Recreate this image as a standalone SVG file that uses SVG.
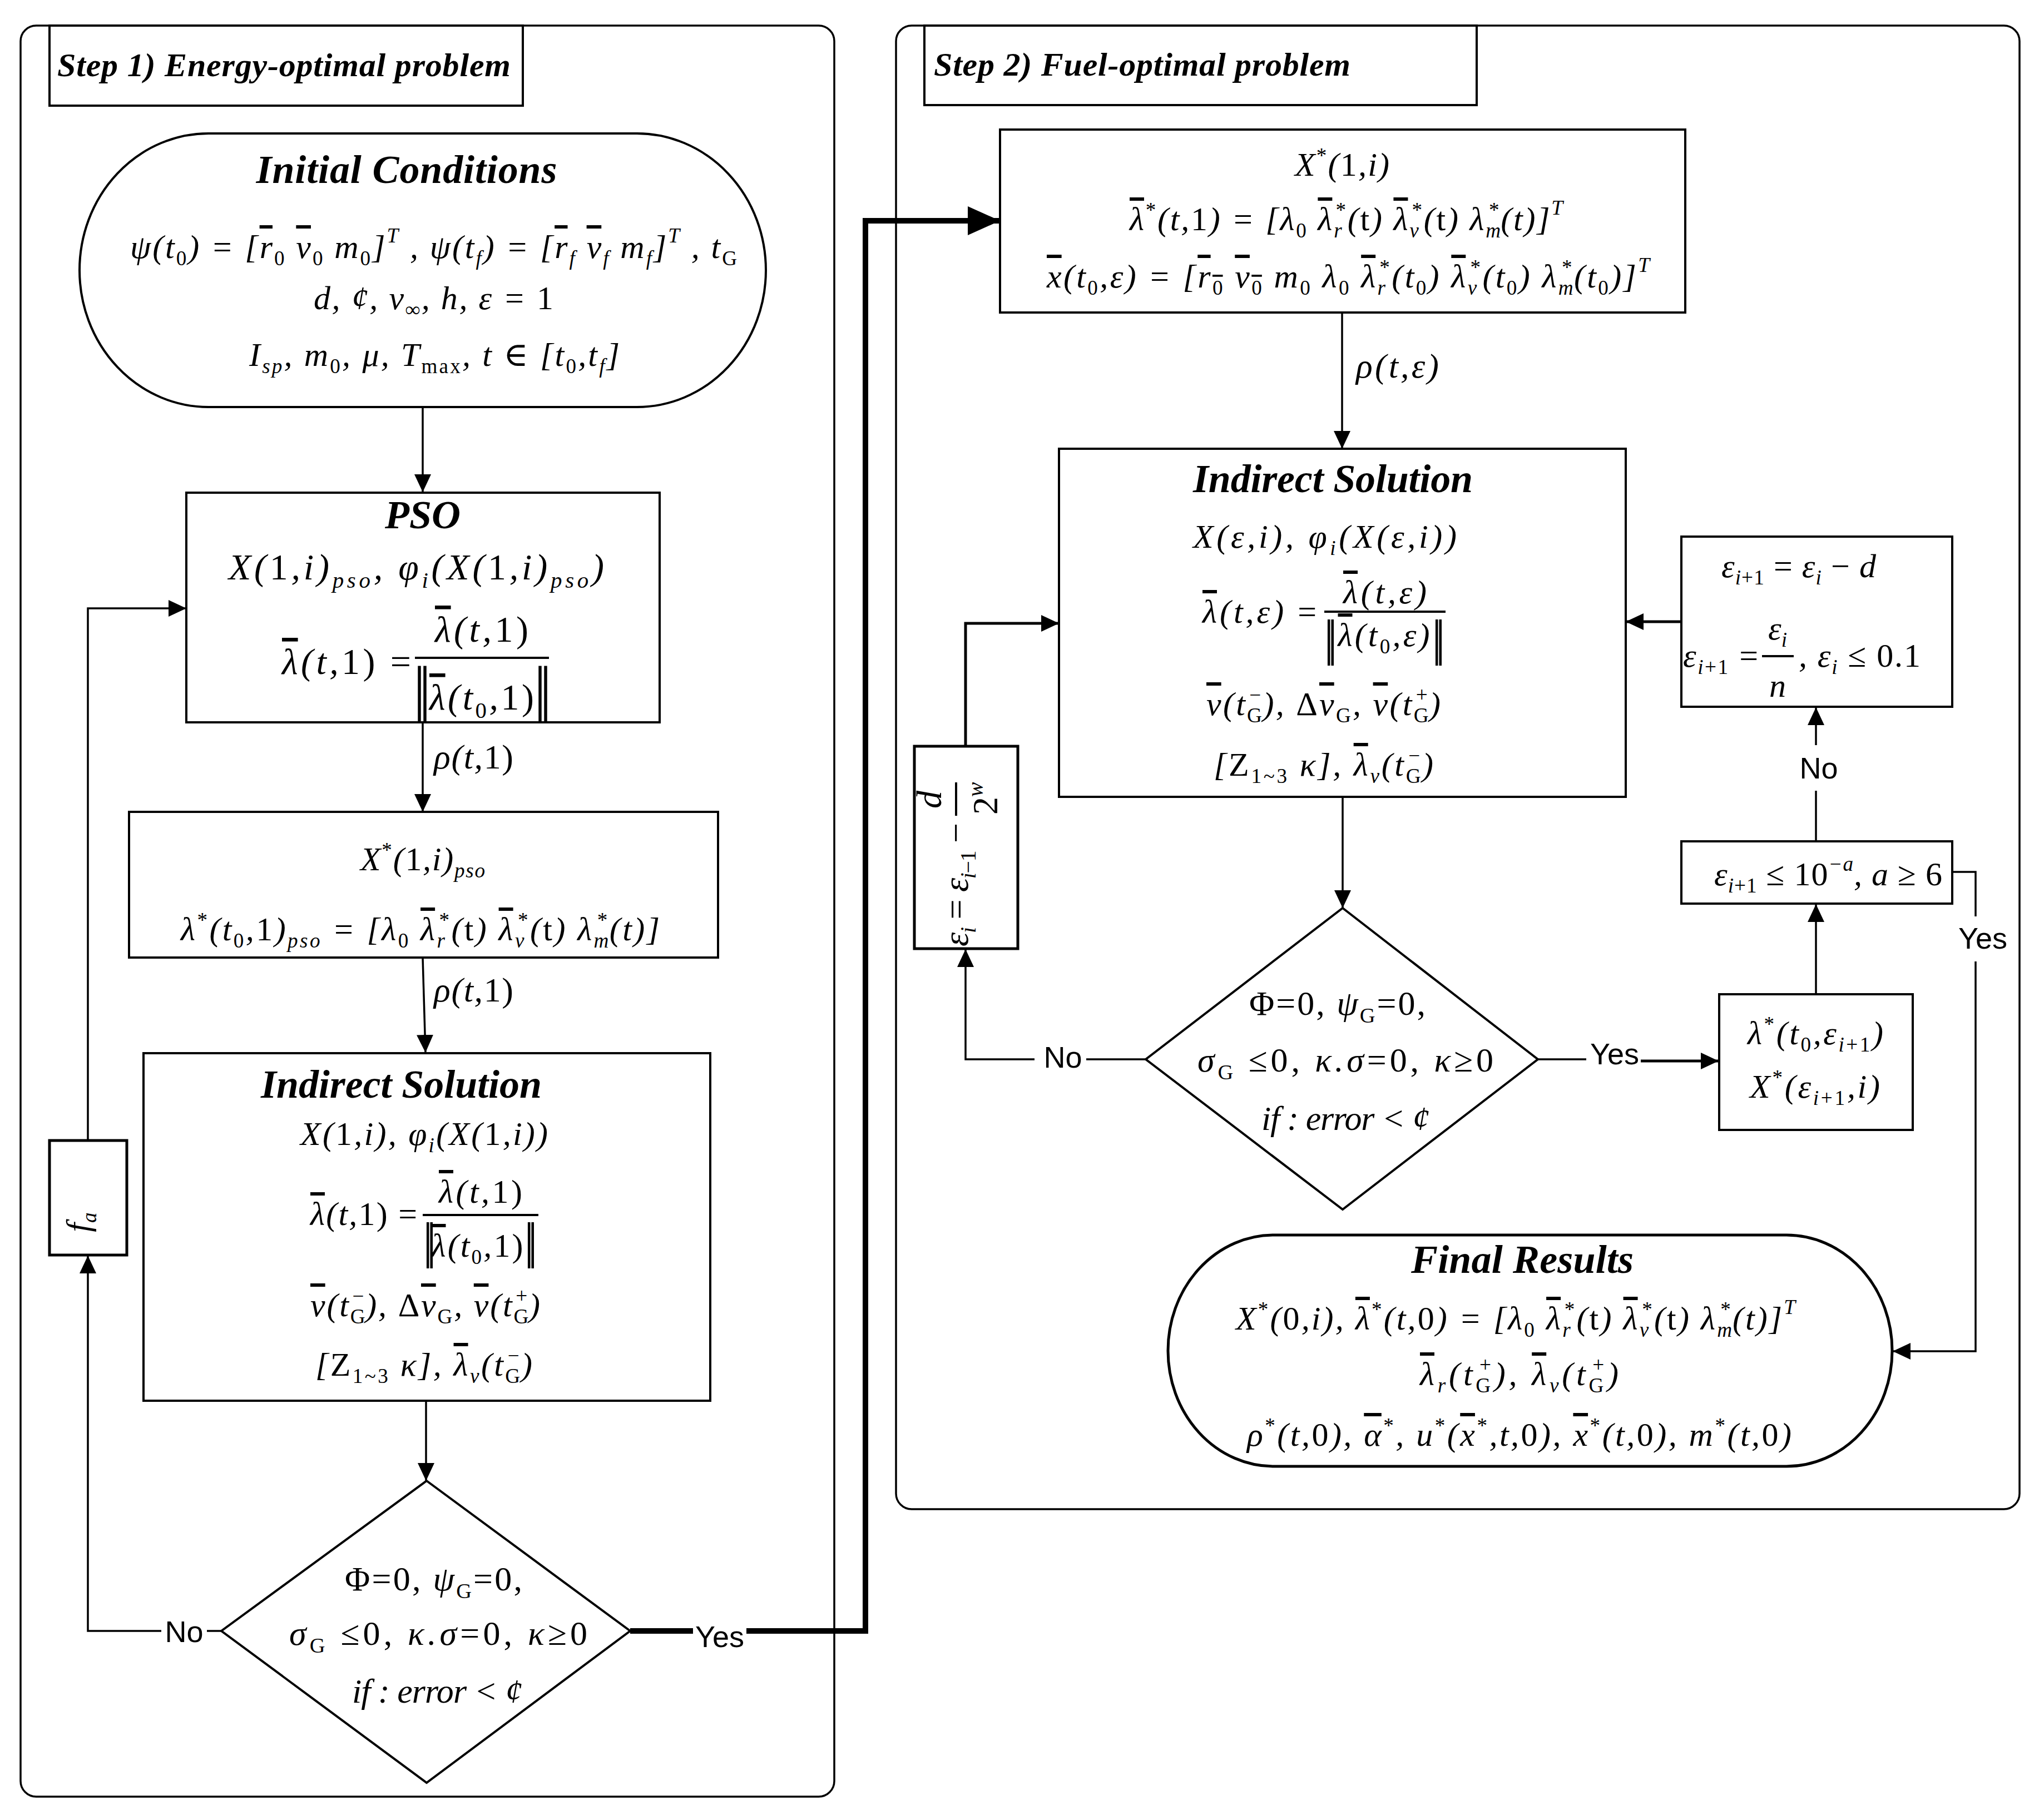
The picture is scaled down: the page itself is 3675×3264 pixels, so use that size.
<svg xmlns="http://www.w3.org/2000/svg" width="3675" height="3264" viewBox="0 0 3675 3264">
<style>
.m{font-family:"Liberation Serif","DejaVu Serif",serif;font-style:italic;font-size:60px;fill:#000}
.m62{font-size:62px}
.m66{font-size:66px}
.m64{font-size:64px}
.s{font-size:0.62em}
.u{font-style:normal}
.v{text-decoration:overline}
.t72{font-family:"Liberation Serif",serif;font-style:italic;font-weight:bold;font-size:72px;fill:#000}
.t60{font-family:"Liberation Serif",serif;font-style:italic;font-weight:bold;font-size:60px;fill:#000}
.lb{font-family:"Liberation Sans",Arial,sans-serif;font-size:54px;fill:#000}
.bar{font-family:"Liberation Serif",serif;font-style:normal;fill:#000;letter-spacing:-12px}
.box{fill:#fff;stroke:#000;stroke-width:4}
.pan{fill:none;stroke:#000;stroke-width:3.5}
.c{fill:none;stroke:#000;stroke-width:3.5}
.c5{fill:none;stroke:#000;stroke-width:5}
.c10{fill:none;stroke:#000;stroke-width:10}
.fl{stroke:#000;stroke-width:4}
</style>
<defs>
<marker id="a" viewBox="0 0 32 30" refX="32" refY="15" markerWidth="32" markerHeight="30" markerUnits="userSpaceOnUse" orient="auto"><path d="M0,0 L32,15 L0,30 z" fill="#000"/></marker>
<marker id="A" viewBox="0 0 58 52" refX="58" refY="26" markerWidth="58" markerHeight="52" markerUnits="userSpaceOnUse" orient="auto"><path d="M0,0 L58,26 L0,52 z" fill="#000"/></marker>
</defs>
<rect width="3675" height="3264" fill="#fff"/>

<g id="panel1">
<rect class="pan" x="37" y="46" width="1463" height="3185" rx="28"/>
</g>
<g id="panel2">
<rect class="pan" x="1611" y="46" width="2020" height="2668" rx="28"/>
</g>
<g id="title1">
<rect class="box" x="89" y="46" width="851" height="144"/>
<text class="t60" x="103" y="137" textLength="815">Step 1)  Energy-optimal problem</text>
</g>
<g id="title2">
<rect class="box" x="1662" y="46" width="993" height="143"/>
<text class="t60" x="1679" y="136" textLength="749">Step 2)  Fuel-optimal problem</text>
</g>

<g id="connectors">
<path class="c" d="M760,732 V885" marker-end="url(#a)"/>
<path class="c" d="M760,1299 V1460" marker-end="url(#a)"/>
<text class="m m62" x="780" y="1382" textLength="143">ρ(t,<tspan class="u">1)</tspan></text>
<path class="c" d="M760,1722 L765,1893" marker-end="url(#a)"/>
<text class="m m62" x="780" y="1801" textLength="143">ρ(t,<tspan class="u">1)</tspan></text>
<path class="c" d="M766,2519 V2663" marker-end="url(#a)"/>
<path class="c" d="M398,2933 H372 M290,2933 H158 V2258" marker-end="url(#a)"/>
<text class="lb" x="331" y="2953" text-anchor="middle">No</text>
<path class="c" d="M158,2051 V1094 H335" marker-end="url(#a)"/>
<path class="c10" d="M1133,2933 H1246 M1342,2933 H1556 V397 H1798" marker-end="url(#A)"/>
<text class="lb" x="1294" y="2962" text-anchor="middle">Yes</text>

<path class="c" d="M2413,562 V807" marker-end="url(#a)"/>
<text class="m m62" x="2438" y="679" textLength="149">ρ(t,ε)</text>
<path class="c5" d="M1736,1342 V1121 H1904" marker-end="url(#a)"/>
<path class="c5" d="M3023,1118 H2923" marker-end="url(#a)"/>
<path class="c" d="M2414,1433 V1633" marker-end="url(#a)"/>
<path class="c" d="M2060,1905 H1953 M1860,1905 H1736 V1707" marker-end="url(#a)"/>
<text class="lb" x="1911" y="1920" text-anchor="middle">No</text>
<path class="c" d="M2765,1905 H2852"/>
<path class="c5" d="M2950,1908 H3090" marker-end="url(#a)"/>
<text class="lb" x="2903" y="1914" text-anchor="middle">Yes</text>
<path class="c" d="M3265,1788 V1626" marker-end="url(#a)"/>
<path class="c" d="M3265,1513 V1422 M3265,1340 V1272" marker-end="url(#a)"/>
<text class="lb" x="3270" y="1400" text-anchor="middle">No</text>
<path class="c" d="M3510,1568 H3552 V1648 M3552,1729 V2430 H3403" marker-end="url(#a)"/>
<text class="lb" x="3565" y="1706" text-anchor="middle">Yes</text>
</g>

<g id="init">
<rect class="box" x="143" y="240" width="1234" height="492" rx="232" ry="246"/>
<text class="t72" x="731" y="329" text-anchor="middle" textLength="541">Initial  Conditions</text>
<text class="m" x="234" y="464" textLength="1091">ψ(t<tspan class="s u" dy="13">0</tspan><tspan dy="-13">) = [<tspan class="v">r</tspan></tspan><tspan class="s u" dy="13">0</tspan><tspan dy="-13">  <tspan class="v">v</tspan></tspan><tspan class="s u" dy="13">0</tspan><tspan dy="-13">  m</tspan><tspan class="s u" dy="13">0</tspan><tspan dy="-13">]</tspan><tspan class="s" dy="-28">T</tspan><tspan dy="28"> , ψ(t</tspan><tspan class="s" dy="13">f</tspan><tspan dy="-13">) = [<tspan class="v">r</tspan></tspan><tspan class="s" dy="13">f</tspan><tspan dy="-13">  <tspan class="v">v</tspan></tspan><tspan class="s" dy="13">f</tspan><tspan dy="-13">  m</tspan><tspan class="s" dy="13">f</tspan><tspan dy="-13">]</tspan><tspan class="s" dy="-28">T</tspan><tspan dy="28"> , t</tspan><tspan class="s u" dy="13">G</tspan></text>
<text class="m" x="564" y="556" textLength="431">d, ¢, v<tspan class="s" dy="13">∞</tspan><tspan dy="-13">, h, ε = <tspan class="u">1</tspan></tspan></text>
<text class="m" x="448" y="658" textLength="666">I<tspan class="s" dy="13">sp</tspan><tspan dy="-13">, m</tspan><tspan class="s u" dy="13">0</tspan><tspan dy="-13">, μ, T</tspan><tspan class="s u" dy="13">max</tspan><tspan dy="-13">, t ∈ [t</tspan><tspan class="s u" dy="13">0</tspan><tspan dy="-13">,t</tspan><tspan class="s" dy="13">f</tspan><tspan dy="-13">]</tspan></text>
</g>

<g id="pso">
<rect class="box" x="335" y="886" width="851" height="413"/>
<text class="t72" x="760" y="950" text-anchor="middle">PSO</text>
<text class="m m66" x="411" y="1042" textLength="675">X(<tspan class="u">1</tspan>,i)<tspan class="s" dy="15">pso</tspan><tspan dy="-15">, φ</tspan><tspan class="s" dy="15">i</tspan><tspan dy="-15">(X(<tspan class="u">1</tspan>,i)</tspan><tspan class="s" dy="15">pso</tspan><tspan dy="-15">)</tspan></text>
<text class="m m66" x="507" y="1212" textLength="232"><tspan class="v">λ</tspan>(t,<tspan class="u">1) =</tspan></text>
<text class="m m66" x="866" y="1154" text-anchor="middle" textLength="168"><tspan class="v">λ</tspan>(t,<tspan class="u">1)</tspan></text>
<line class="fl" x1="746" y1="1183" x2="987" y2="1183"/>
<text class="m m66" x="866" y="1276" text-anchor="middle" textLength="188"><tspan class="v">λ</tspan>(t<tspan class="s u" dy="15">0</tspan><tspan dy="-15">,</tspan><tspan class="u">1)</tspan></text>
<text class="bar" x="743" y="1275" font-size="110">||</text>
<text class="bar" x="960" y="1275" font-size="110">||</text>
</g>

<g id="xstar">
<rect class="box" x="232" y="1460" width="1059" height="262"/>
<text class="m" x="760" y="1565" text-anchor="middle" textLength="224">X<tspan class="s u" dy="-24">*</tspan><tspan dy="24">(<tspan class="u">1</tspan>,i)</tspan><tspan class="s" dy="13">pso</tspan></text>
<text class="m" x="325" y="1691" textLength="861">λ<tspan class="s u" dy="-24">*</tspan><tspan dy="24">(t</tspan><tspan class="s u" dy="13">0</tspan><tspan dy="-13">,<tspan class="u">1</tspan>)</tspan><tspan class="s" dy="13">pso</tspan><tspan dy="-13"> = [λ</tspan><tspan class="s u" dy="13">0</tspan><tspan dy="-13"> <tspan class="v">λ</tspan></tspan><tspan class="s" dy="13">r</tspan><tspan class="s u" dx="-14" dy="-37">*</tspan><tspan dy="24">(<tspan class="u">t</tspan>) <tspan class="v">λ</tspan></tspan><tspan class="s" dy="13">v</tspan><tspan class="s u" dx="-15" dy="-37">*</tspan><tspan dy="24">(<tspan class="u">t</tspan>) λ</tspan><tspan class="s" dy="13">m</tspan><tspan class="s u" dx="-24" dy="-37">*</tspan><tspan dy="24">(t)]</tspan></text>
</g>

<g id="indirect1">
<rect class="box" x="258" y="1894" width="1019" height="625"/>
<text class="t72" x="469" y="1974" textLength="505">Indirect Solution</text>
<text class="m" x="540" y="2059" textLength="445">X(<tspan class="u">1</tspan>,i), φ<tspan class="s" dy="13">i</tspan><tspan dy="-13">(X(<tspan class="u">1</tspan>,i))</tspan></text>
<text class="m" x="558" y="2203" textLength="192"><tspan class="v">λ</tspan>(t,<tspan class="u">1) =</tspan></text>
<text class="m" x="864" y="2163" text-anchor="middle" textLength="150"><tspan class="v">λ</tspan>(t,<tspan class="u">1)</tspan></text>
<line class="fl" x1="760" y1="2185" x2="968" y2="2185"/>
<text class="m" x="858" y="2260" text-anchor="middle" textLength="165"><tspan class="v">λ</tspan>(t<tspan class="s u" dy="13">0</tspan><tspan dy="-13">,</tspan><tspan class="u">1)</tspan></text>
<text class="bar" x="760" y="2262" font-size="92">||</text>
<text class="bar" x="942" y="2262" font-size="92">||</text>
<text class="m" x="558" y="2367" textLength="413"><tspan class="v">v</tspan>(t<tspan class="s u" dy="13">G</tspan><tspan class="s u" dx="-26" dy="-37">−</tspan><tspan dy="24">), <tspan class="u">Δ</tspan><tspan class="v">v</tspan></tspan><tspan class="s u" dy="13">G</tspan><tspan dy="-13">, <tspan class="v">v</tspan>(t</tspan><tspan class="s u" dy="13">G</tspan><tspan class="s u" dx="-26" dy="-37">+</tspan><tspan dy="24">)</tspan></text>
<text class="m" x="567" y="2474" textLength="390">[<tspan class="u">Z</tspan><tspan class="s u" dy="13">1~3</tspan><tspan dy="-13"> κ], <tspan class="v">λ</tspan></tspan><tspan class="s" dy="13">v</tspan><tspan dy="-13">(t</tspan><tspan class="s u" dy="13">G</tspan><tspan class="s u" dx="-26" dy="-37">−</tspan><tspan dy="24">)</tspan></text>
</g>

<g id="fa">
<rect x="89" y="2051" width="139" height="206" fill="#fff" stroke="#000" stroke-width="5"/>
<g transform="translate(158,2198) rotate(-90)"><text class="m" x="0" y="2" text-anchor="middle" font-size="64">f<tspan class="s" dy="13">a</tspan></text></g>
</g>

<g id="decision1">
<polygon class="box" points="767,2663 1133,2933 767,3206 398,2933"/>
<text class="m m62" x="620" y="2860" textLength="319"><tspan class="u">Φ=0,</tspan> ψ<tspan class="s u" dy="14">G</tspan><tspan dy="-14" class="u">=0,</tspan></text>
<text class="m m62" x="520" y="2958" textLength="536">σ<tspan class="s u" dy="14">G</tspan><tspan dy="-14"> <tspan class="u">≤0,</tspan> κ.σ<tspan class="u">=0,</tspan> κ<tspan class="u">≥0</tspan></tspan></text>
<text class="m m62" x="633" y="3062" textLength="306">if : error &lt; ¢</text>
</g>

<g id="box1">
<rect class="box" x="1798" y="233" width="1232" height="329"/>
<text class="m" x="2413" y="316" text-anchor="middle" textLength="170">X<tspan class="s u" dy="-24">*</tspan><tspan dy="24">(<tspan class="u">1</tspan>,i)</tspan></text>
<text class="m" x="2031" y="414" textLength="779"><tspan class="v">λ</tspan><tspan class="s u" dy="-24">*</tspan><tspan dy="24">(t,<tspan class="u">1</tspan>) = [λ</tspan><tspan class="s u" dy="13">0</tspan><tspan dy="-13"> <tspan class="v">λ</tspan></tspan><tspan class="s" dy="13">r</tspan><tspan class="s u" dx="-14" dy="-37">*</tspan><tspan dy="24">(<tspan class="u">t</tspan>) <tspan class="v">λ</tspan></tspan><tspan class="s" dy="13">v</tspan><tspan class="s u" dx="-15" dy="-37">*</tspan><tspan dy="24">(<tspan class="u">t</tspan>) λ</tspan><tspan class="s" dy="13">m</tspan><tspan class="s u" dx="-24" dy="-37">*</tspan><tspan dy="24">(t)]</tspan><tspan class="s" dy="-28">T</tspan></text>
<text class="m" x="1882" y="517" textLength="1084"><tspan class="v">x</tspan>(t<tspan class="s u" dy="13">0</tspan><tspan dy="-13">,ε) = [<tspan class="v">r</tspan></tspan><tspan class="s u v" dy="13">0</tspan><tspan dy="-13"> <tspan class="v">v</tspan></tspan><tspan class="s u v" dy="13">0</tspan><tspan dy="-13"> m</tspan><tspan class="s u" dy="13">0</tspan><tspan dy="-13"> λ</tspan><tspan class="s u" dy="13">0</tspan><tspan dy="-13"> <tspan class="v">λ</tspan></tspan><tspan class="s" dy="13">r</tspan><tspan class="s u" dx="-14" dy="-37">*</tspan><tspan dy="24">(t</tspan><tspan class="s u" dy="13">0</tspan><tspan dy="-13">) <tspan class="v">λ</tspan></tspan><tspan class="s" dy="13">v</tspan><tspan class="s u" dx="-15" dy="-37">*</tspan><tspan dy="24">(t</tspan><tspan class="s u" dy="13">0</tspan><tspan dy="-13">) λ</tspan><tspan class="s" dy="13">m</tspan><tspan class="s u" dx="-24" dy="-37">*</tspan><tspan dy="24">(t</tspan><tspan class="s u" dy="13">0</tspan><tspan dy="-13">)]</tspan><tspan class="s" dy="-28">T</tspan></text>
</g>

<g id="indirect2">
<rect class="box" x="1904" y="807" width="1019" height="626"/>
<text class="t72" x="2145" y="885" textLength="503">Indirect Solution</text>
<text class="m" x="2145" y="985" textLength="474">X(ε,i), φ<tspan class="s" dy="13">i</tspan><tspan dy="-13">(X(ε,i))</tspan></text>
<text class="m" x="2162" y="1120" textLength="205"><tspan class="v">λ</tspan>(t,ε) <tspan class="u">=</tspan></text>
<text class="m" x="2490" y="1085" text-anchor="middle" textLength="150"><tspan class="v">λ</tspan>(t,ε)</text>
<line class="fl" x1="2381" y1="1100" x2="2599" y2="1100"/>
<text class="m" x="2488" y="1162" text-anchor="middle" textLength="165"><tspan class="v">λ</tspan>(t<tspan class="s u" dy="13">0</tspan><tspan dy="-13">,ε)</tspan></text>
<text class="bar" x="2380" y="1178" font-size="92">||</text>
<text class="bar" x="2574" y="1178" font-size="92">||</text>
<text class="m" x="2169" y="1286" textLength="421"><tspan class="v">v</tspan>(t<tspan class="s u" dy="13">G</tspan><tspan class="s u" dx="-26" dy="-37">−</tspan><tspan dy="24">), <tspan class="u">Δ</tspan><tspan class="v">v</tspan></tspan><tspan class="s u" dy="13">G</tspan><tspan dy="-13">, <tspan class="v">v</tspan>(t</tspan><tspan class="s u" dy="13">G</tspan><tspan class="s u" dx="-26" dy="-37">+</tspan><tspan dy="24">)</tspan></text>
<text class="m" x="2182" y="1395" textLength="395">[<tspan class="u">Z</tspan><tspan class="s u" dy="13">1~3</tspan><tspan dy="-13"> κ], <tspan class="v">λ</tspan></tspan><tspan class="s" dy="13">v</tspan><tspan dy="-13">(t</tspan><tspan class="s u" dy="13">G</tspan><tspan class="s u" dx="-26" dy="-37">−</tspan><tspan dy="24">)</tspan></text>
</g>

<g id="epsbox">
<rect x="1644" y="1342" width="186" height="364" fill="#fff" stroke="#000" stroke-width="5"/>
<g transform="translate(1737,1525) rotate(-90)">
<text class="m m64" x="-177" y="3" textLength="222">ε<tspan class="s" dy="14">i</tspan><tspan dy="-14" class="u"> = </tspan>ε<tspan class="s" dy="14">i<tspan class="u">−1</tspan></tspan><tspan dy="-14" class="u"> −</tspan></text>
<line class="fl" x1="58" y1="-18" x2="118" y2="-18"/>
<text class="m m64" x="87" y="-45" text-anchor="middle">d</text>
<text class="m m64" x="60" y="56"><tspan class="u">2</tspan><tspan class="s" dy="-26">w</tspan></text>
</g>
</g>

<g id="update">
<rect class="box" x="3023" y="965" width="487" height="306"/>
<text class="m" x="3095" y="1038" textLength="278">ε<tspan class="s" dy="13">i<tspan class="u">+1</tspan></tspan><tspan dy="-13" class="u"> = </tspan>ε<tspan class="s" dy="13">i</tspan><tspan dy="-13"> <tspan class="u">−</tspan> d</tspan></text>
<text class="m" x="3026" y="1199" textLength="135">ε<tspan class="s" dy="13">i<tspan class="u">+1</tspan></tspan><tspan dy="-13" class="u"> =</tspan></text>
<text class="m" x="3196" y="1150" text-anchor="middle">ε<tspan class="s" dy="13">i</tspan></text>
<line class="fl" x1="3168" y1="1180" x2="3225" y2="1180"/>
<text class="m" x="3196" y="1253" text-anchor="middle">n</text>
<text class="m" x="3234" y="1199" textLength="219">, ε<tspan class="s" dy="13">i</tspan><tspan dy="-13" class="u"> ≤ 0.1</tspan></text>
</g>

<g id="tol">
<rect class="box" x="3023" y="1513" width="487" height="112"/>
<text class="m" x="3082" y="1592" textLength="410">ε<tspan class="s" dy="13">i<tspan class="u">+1</tspan></tspan><tspan dy="-13" class="u"> ≤ 10</tspan><tspan class="s" dy="-26">−a</tspan><tspan dy="26">, a <tspan class="u">≥ 6</tspan></tspan></text>
</g>

<g id="lambdabox">
<rect class="box" x="3091" y="1788" width="348" height="244"/>
<text class="m" x="3142" y="1878" textLength="244">λ<tspan class="s u" dy="-24">*</tspan><tspan dy="24">(t</tspan><tspan class="s u" dy="13">0</tspan><tspan dy="-13">,ε</tspan><tspan class="s" dy="13">i<tspan class="u">+1</tspan></tspan><tspan dy="-13">)</tspan></text>
<text class="m" x="3146" y="1974" textLength="234">X<tspan class="s u" dy="-24">*</tspan><tspan dy="24">(ε</tspan><tspan class="s" dy="13">i<tspan class="u">+1</tspan></tspan><tspan dy="-13">,i)</tspan></text>
</g>

<g id="decision2">
<polygon class="box" points="2414,1633 2765,1905 2414,2175 2060,1905"/>
<text class="m m62" x="2246" y="1825" textLength="317"><tspan class="u">Φ=0,</tspan> ψ<tspan class="s u" dy="14">G</tspan><tspan dy="-14" class="u">=0,</tspan></text>
<text class="m m62" x="2153" y="1927" textLength="532">σ<tspan class="s u" dy="14">G</tspan><tspan dy="-14"> <tspan class="u">≤0,</tspan> κ.σ<tspan class="u">=0,</tspan> κ<tspan class="u">≥0</tspan></tspan></text>
<text class="m m62" x="2268" y="2032" textLength="302">if : error &lt; ¢</text>
</g>

<g id="final">
<rect x="2100" y="2221" width="1302" height="416" rx="190" ry="208" fill="#fff" stroke="#000" stroke-width="5"/>
<text class="t72" x="2537" y="2289" textLength="400">Final Results</text>
<text class="m" x="2222" y="2391" textLength="1006">X<tspan class="s u" dy="-24">*</tspan><tspan dy="24">(<tspan class="u">0</tspan>,i), <tspan class="v">λ</tspan></tspan><tspan class="s u" dy="-24">*</tspan><tspan dy="24">(t,<tspan class="u">0</tspan>) = [λ</tspan><tspan class="s u" dy="13">0</tspan><tspan dy="-13"> <tspan class="v">λ</tspan></tspan><tspan class="s" dy="13">r</tspan><tspan class="s u" dx="-14" dy="-37">*</tspan><tspan dy="24">(<tspan class="u">t</tspan>) <tspan class="v">λ</tspan></tspan><tspan class="s" dy="13">v</tspan><tspan class="s u" dx="-15" dy="-37">*</tspan><tspan dy="24">(<tspan class="u">t</tspan>) λ</tspan><tspan class="s" dy="13">m</tspan><tspan class="s u" dx="-24" dy="-37">*</tspan><tspan dy="24">(t)]</tspan><tspan class="s" dy="-28">T</tspan></text>
<text class="m" x="2553" y="2491" textLength="357"><tspan class="v">λ</tspan><tspan class="s" dy="13">r</tspan><tspan dy="-13">(t</tspan><tspan class="s u" dy="13">G</tspan><tspan class="s u" dx="-26" dy="-37">+</tspan><tspan dy="24">), <tspan class="v">λ</tspan></tspan><tspan class="s" dy="13">v</tspan><tspan dy="-13">(t</tspan><tspan class="s u" dy="13">G</tspan><tspan class="s u" dx="-26" dy="-37">+</tspan><tspan dy="24">)</tspan></text>
<text class="m" x="2242" y="2600" textLength="979">ρ<tspan class="s u" dy="-24">*</tspan><tspan dy="24">(t,<tspan class="u">0</tspan>), <tspan class="v">α</tspan></tspan><tspan class="s u" dy="-24">*</tspan><tspan dy="24">, u</tspan><tspan class="s u" dy="-24">*</tspan><tspan dy="24">(<tspan class="v">x</tspan></tspan><tspan class="s u" dy="-24">*</tspan><tspan dy="24">,t,<tspan class="u">0</tspan>), <tspan class="v">x</tspan></tspan><tspan class="s u" dy="-24">*</tspan><tspan dy="24">(t,<tspan class="u">0</tspan>), m</tspan><tspan class="s u" dy="-24">*</tspan><tspan dy="24">(t,<tspan class="u">0</tspan>)</tspan></text>
</g>
</svg>
